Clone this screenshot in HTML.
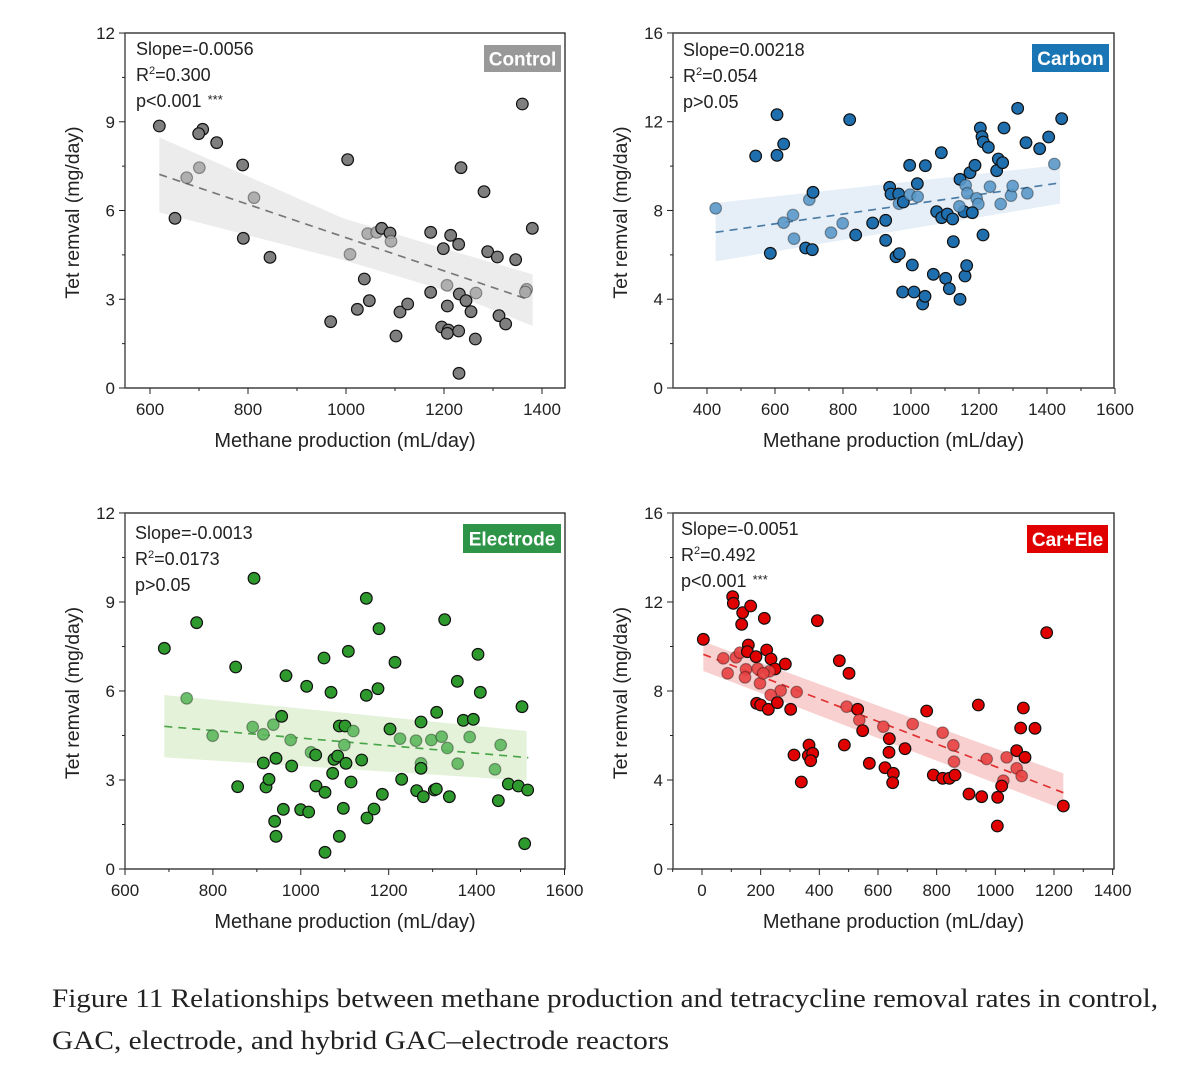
<!DOCTYPE html>
<html><head><meta charset="utf-8"><style>
html,body{margin:0;padding:0;background:#fff;}
svg{display:block;}
text{font-family:"Liberation Sans",Arial,sans-serif;fill:#222;}
</style></head><body>
<svg id="s" width="1183" height="1069" viewBox="0 0 1183 1069" xmlns="http://www.w3.org/2000/svg">
<text x="52" y="1007" style="font-family:'Liberation Serif',serif;font-size:26px" textLength="1106" lengthAdjust="spacingAndGlyphs">Figure 11 Relationships between methane production and tetracycline removal rates in control,</text>
<text x="52" y="1049" style="font-family:'Liberation Serif',serif;font-size:26px" textLength="617" lengthAdjust="spacingAndGlyphs">GAC, electrode, and hybrid GAC–electrode reactors</text>
</svg>
<script>
const NS="http://www.w3.org/2000/svg",S=document.getElementById('s');
function el(t,a,p){const e=document.createElementNS(NS,t);for(const k in a)e.setAttribute(k,a[k]);(p||S).appendChild(e);return e;}
function tx(x,y,s,a,p){const e=el('text',Object.assign({x:x,y:y},a),p);e.textContent=s;return e;}
const panels=[
{L:125,R:565,T:33,B:388,ox:110,oy:30,xs:[600,1400,100,200],xf:v=>150+(v-600)*0.49,ys:[0,12,1.5,3],yf:v=>388-v*29.58,
 dark:'#7f7f7f',light:'#a9a9a9',band:'#ececec',line:'#777',lab:'Control',labc:'#999',lbox:[484,45,77,27],tx:136,ty:[55,81,107],stars:true,
 slope:'Slope=-0.0056',r2:'0.300',p:'p<0.001',
 bandT:[[148,322],[700,565],[1000,655],[1268,733]],bandB:[[148,547],[700,690],[1000,780],[1268,888]],ln:[148,433,1245,805],
 pts:"148,288 278,298 266,311 320,338 398,405 L230,443 L268,413 195,565 L432,503 400,625 480,682 713,389 L720,673 L773,611 L800,607 815,595 840,609 L843,634 763,747 778,812 742,838 662,875 870,846 893,822 858,918 962,607 1000,656 1022,616 1046,643 1053,413 1122,485 1133,665 1162,681 1217,689 1237,222 1267,595 L1250,778 L1246,786 L1011,766 L1098,789 1048,792 1068,812 1083,845 1012,828 962,787 995,891 1015,900 1012,910 1046,903 1096,927 1047,1030 1167,857 1187,882"},
{L:673,R:1114,T:33,B:388,ox:660,oy:30,xs:[400,1600,100,200],xf:v=>707+(v-400)*0.34,ys:[0,16,2,4],yf:v=>388-v*22.19,
 dark:'#1f6fae',light:'#5a98c8',band:'#e6eef7',line:'#4a7ca6',lab:'Carbon',labc:'#1a75b5',lbox:[1032,44,77,28],tx:683,ty:[56,82,108],stars:false,
 slope:'Slope=0.00218',r2:'0.054',p:'p>0.05',
 bandT:[[167,519],[1200,405]],bandB:[[167,694],[1200,521]],ln:[167,607,1205,458],
 pts:"L167,535 287,378 351,254 351,376 371,342 331,670 L371,578 L399,555 L402,626 437,654 457,659 L448,509 459,487 L513,608 L548,580 569,269 587,615 638,579 677,571 677,631 689,472 693,492 716,492 L717,521 730,516 L750,494 L773,500 772,461 749,406 796,407 708,680 718,671 757,705 728,786 762,786 788,822 795,799 820,733 857,745 868,776 900,808 915,738 920,707 844,368 830,545 845,563 862,552 878,567 880,635 900,448 L917,466 L922,490 930,428 945,406 L950,505 L955,522 912,545 937,548 L898,529 969,615 961,294 966,320 970,336 985,352 L990,470 1010,422 1015,387 1028,398 1032,294 L1022,522 L1053,497 L1058,468 1073,235 1098,338 L1102,490 1139,356 1166,321 L1183,402 1205,266"},
{L:125,R:565,T:513,B:869,ox:110,oy:510,xs:[600,1600,100,200],xf:v=>125+(v-600)*0.4395,ys:[0,12,1.5,3],yf:v=>869-v*29.67,
 dark:'#2e9a2e',light:'#5cb85c',band:'#e4f2d9',line:'#4aa54a',lab:'Electrode',labc:'#2e9448',lbox:[463,524,98,29],tx:135,ty:[539,565,591],stars:false,
 slope:'Slope=-0.0013',r2:'0.0173',p:'p>0.05',
 bandT:[[163,555],[1250,663]],bandB:[[163,742],[1250,812]],ln:[163,649,1255,743],
 pts:"163,415 260,338 L230,565 L308,677 377,471 383,830 432,205 L428,651 L460,673 L490,644 515,619 460,759 468,831 477,808 498,745 494,934 498,979 520,898 528,497 L542,690 545,768 572,899 596,906 590,529 L603,727 617,735 618,828 645,847 642,444 663,547 668,790 672,748 683,738 688,648 705,648 L703,705 708,760 700,895 688,979 645,1027 715,424 723,816 L730,663 755,750 769,265 769,556 771,924 792,897 807,356 804,536 817,853 840,657 855,457 L870,686 875,808 L918,692 920,842 933,636 L933,760 933,775 940,860 L964,690 973,840 979,837 980,607 L995,680 1004,329 L1012,714 1018,860 1042,514 L1043,761 1060,631 L1079,681 1090,628 1104,433 1111,547 L1155,778 1165,872 L1172,705 1195,822 1225,828 1236,590 1253,840 1244,1001"},
{L:673,R:1114,T:513,B:869,ox:660,oy:510,xs:[-100,1400,100,200],xf:v=>702+v*0.2933,ys:[0,16,2,4],yf:v=>869-v*22.25,
 dark:'#e00000',light:'#e84040',band:'#f8d0d0',line:'#e03030',lab:'Car+Ele',labc:'#e00000',lbox:[1027,525,81,28],tx:681,ty:[535,561,587],stars:true,
 slope:'Slope=-0.0051',r2:'0.492',p:'p<0.001',
 bandT:[[130,395],[1210,790]],bandB:[[130,483],[1210,898]],ln:[130,433,1210,848],
 pts:"130,388 218,260 220,280 248,308 245,343 272,288 313,325 472,332 L190,445 L203,490 L228,442 L240,428 265,405 262,425 288,440 L258,478 L255,502 L293,476 L300,520 320,420 333,447 345,477 L328,484 L310,490 376,462 L362,542 L332,555 290,580 302,585 325,598 352,578 392,598 L410,546 402,735 424,816 447,705 445,737 458,730 452,752 538,452 567,490 L560,590 553,705 593,598 L598,630 608,662 628,760 L670,650 688,686 687,727 675,773 700,790 698,818 735,716 L758,642 800,603 820,795 L848,668 848,805 868,805 L880,706 L882,755 885,795 927,852 955,585 965,860 L980,747 1013,862 1012,948 L1030,812 1025,828 L1040,742 1070,722 L1070,775 L1085,798 1095,742 1082,654 1090,594 1125,655 1160,368 1210,888"}
];
for(const P of panels){
  const g=el('g',{transform:`translate(${P.ox},${P.oy}) scale(${1/3})`});
  const poly=P.bandT.concat(P.bandB.slice().reverse()).map(p=>p.join(',')).join(' ');
  el('polygon',{points:poly,fill:P.band},g);
  el('line',{x1:P.ln[0],y1:P.ln[1],x2:P.ln[2],y2:P.ln[3],stroke:P.line,'stroke-width':5,'stroke-dasharray':'24,18'},g);
  for(const s of P.pts.split(' ')){
    const lt=s[0]=='L';const [x,y]=(lt?s.slice(1):s).split(',').map(Number);
    el('circle',{cx:x,cy:y,r:17.5,fill:lt?P.light:P.dark,stroke:lt?'rgba(0,0,0,0.35)':'#111','stroke-width':3.5,'fill-opacity':lt?0.9:1},g);
  }
  el('rect',{x:P.L,y:P.T,width:P.R-P.L,height:P.B-P.T,fill:'none',stroke:'#222','stroke-width':1.3});
  el('line',{x1:P.L,y1:P.T,x2:P.L,y2:P.B,stroke:'#666','stroke-width':1.5});
  for(let v=P.xs[0];v<=P.xs[1]+1e-9;v+=P.xs[2]){
    const x=P.xf(v); if(x<P.L-1||x>P.R+1) continue;
    const maj=Math.abs((v/P.xs[3])-Math.round(v/P.xs[3]))<1e-6;
    el('line',{x1:x,y1:P.B,x2:x,y2:P.B+(maj?6:3),stroke:'#222','stroke-width':1});
    if(maj) tx(x,P.B+27,String(v),{'text-anchor':'middle','font-size':17});
  }
  for(let v=P.ys[0];v<=P.ys[1]+1e-9;v+=P.ys[2]){
    const y=P.yf(v);
    const maj=Math.abs((v/P.ys[3])-Math.round(v/P.ys[3]))<1e-6;
    el('line',{x1:P.L-(maj?6:3),y1:y,x2:P.L,y2:y,stroke:'#222','stroke-width':1});
    if(maj) tx(P.L-10,y+6,String(v),{'text-anchor':'end','font-size':17});
  }
  const cx=(P.L+P.R)/2;
  tx(cx,P.B+59,'Methane production (mL/day)',{'text-anchor':'middle','font-size':20});
  const lx=P.L-46,ly=(P.T+P.B)/2+2;
  tx(lx,ly,'Tet remval (mg/day)',{'text-anchor':'middle','font-size':19.5,transform:`rotate(-90 ${lx} ${ly})`});
  el('rect',{x:P.lbox[0],y:P.lbox[1],width:P.lbox[2],height:P.lbox[3],fill:P.labc});
  const t=tx(P.lbox[0]+P.lbox[2]/2,P.lbox[1]+P.lbox[3]/2+7,P.lab,{'text-anchor':'middle','font-size':19,'font-weight':'bold'});t.style.fill='#fff';
  tx(P.tx,P.ty[0],P.slope,{'font-size':18});
  const r=tx(P.tx,P.ty[1],'R',{'font-size':18});
  const sp=el('tspan',{dy:-7,'font-size':11},r);sp.textContent='2';
  const sp2=el('tspan',{dy:7},r);sp2.textContent='='+P.r2;
  const pt=tx(P.tx,P.ty[2],P.p,{'font-size':18});
  if(P.stars){const st=el('tspan',{dx:6,dy:-3,'font-size':13},pt);st.textContent='***';}
}
</script>
</body></html>
